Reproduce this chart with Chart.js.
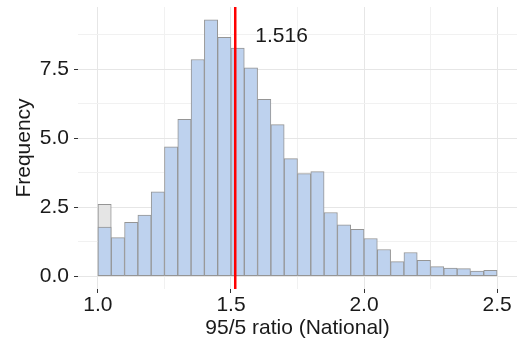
<!DOCTYPE html>
<html>
<head>
<meta charset="utf-8">
<script src="https://cdn.jsdelivr.net/npm/chart.js@4"></script>
<style>
    html, body { margin: 0; padding: 0; background: #ffffff; }
    #wrap { width: 517px; height: 347px; }
</style>
</head>
<body>
<div id="wrap"><canvas id="histChart"></canvas></div>
<script>
/* =========================
   Data
========================= */
const binMids = [1.025, 1.075, 1.125, 1.175, 1.225, 1.275, 1.325, 1.375, 1.425, 1.475,
                 1.525, 1.575, 1.625, 1.675, 1.725, 1.775, 1.825, 1.875, 1.925, 1.975,
                 2.025, 2.075, 2.125, 2.175, 2.225, 2.275, 2.325, 2.375, 2.425, 2.475];
const blueCounts = [1.78, 1.40, 1.95, 2.22, 3.06, 4.69, 5.68, 7.85, 9.29, 8.65,
                    8.26, 7.55, 6.41, 5.49, 4.26, 3.72, 3.79, 2.31, 1.86, 1.70,
                    1.37, 0.97, 0.53, 0.86, 0.58, 0.35, 0.30, 0.28, 0.19, 0.22];
const grayMids = [1.025];
const grayCounts = [2.61];
const medianValue = 1.516;
const medianLabel = "1.516";

const xTicks = [1.0, 1.25, 1.5, 1.75, 2.0, 2.25, 2.5];
const xLabels = [1.0, 1.5, 2.0, 2.5];
const yTicks = [0, 1.25, 2.5, 3.75, 5.0, 6.25, 7.5, 8.75];
const yLabels = [0, 2.5, 5.0, 7.5];

const FONT = "'Liberation Sans', Arial, sans-serif";
const TEXT = "#1a1a1a";

const isMajor = (list, v) => list.some(t => Math.abs(t - v) < 1e-6);
const tickVal = (c) => (c && c.tick) ? c.tick.value : NaN;
const noPad = (s) => { s.paddingTop = 0; s.paddingBottom = 0; s.paddingLeft = 0; s.paddingRight = 0; };

/* =========================
   Median line plugin
========================= */
const medianLine = {
    id: "medianLine",
    afterDatasetsDraw(chart) {
        const { ctx, chartArea, scales } = chart;
        const x = scales.x.getPixelForValue(medianValue);
        ctx.save();
        ctx.strokeStyle = "#ff0000";
        ctx.lineWidth = 2.5;
        ctx.beginPath();
        ctx.moveTo(x, chartArea.top);
        ctx.lineTo(x, chartArea.bottom);
        ctx.stroke();

        ctx.fillStyle = TEXT;
        ctx.font = "21px " + FONT;
        ctx.textAlign = "center";
        ctx.textBaseline = "middle";
        ctx.fillText(medianLabel, scales.x.getPixelForValue(1.69), scales.y.getPixelForValue(8.68));
        ctx.restore();
    }
};

/* =========================
   Chart
========================= */
new Chart(document.getElementById("histChart"), {
    type: "bar",
    data: {
        datasets: [
            {
                label: "All",
                data: blueCounts.map((v, i) => ({ x: binMids[i], y: v })),
                backgroundColor: "#bed2ee",
                borderColor: "#959595",
                borderWidth: 1,
                borderSkipped: false,
                grouped: false,
                barPercentage: 1,
                categoryPercentage: 1,
                order: 0
            },
            {
                label: "Other",
                data: grayCounts.map((v, i) => ({ x: grayMids[i], y: v })),
                backgroundColor: "#e5e5e5",
                borderColor: "#959595",
                borderWidth: 1,
                borderSkipped: false,
                grouped: false,
                barPercentage: 1,
                categoryPercentage: 1,
                order: 1
            }
        ]
    },
    options: {
        responsive: true,
        maintainAspectRatio: false,
        animation: false,
        layout: { padding: { top: 7, right: 0, left: 0, bottom: 0 } },
        plugins: {
            legend: { display: false },
            tooltip: { enabled: false }
        },
        scales: {
            x: {
                type: "linear",
                offset: false,
                min: 0.925,
                max: 2.575,
                border: { display: false },
                afterBuildTicks: (s) => { s.ticks = xTicks.map(v => ({ value: v })); },
                afterFit: (s) => { s.height = 58; noPad(s); },
                grid: {
                    offset: false,
                    color: (c) => isMajor(xLabels, tickVal(c)) ? "#e6e6e6" : "#f1f1f1",
                    tickColor: (c) => isMajor(xLabels, tickVal(c)) ? "#333333" : "rgba(0,0,0,0)",
                    tickLength: 4,
                    lineWidth: 1
                },
                ticks: {
                    autoSkip: false,
                    maxRotation: 0,
                    padding: 0,
                    color: TEXT,
                    font: { family: FONT, size: 21 },
                    callback: (v) => isMajor(xLabels, v) ? Number(v).toFixed(1) : ""
                },
                title: {
                    display: true,
                    text: "95/5 ratio (National)",
                    color: TEXT,
                    font: { family: FONT, size: 21 },
                    padding: { top: 0, bottom: 6 }
                }
            },
            y: {
                min: -0.46,
                max: 9.75,
                border: { display: false },
                afterBuildTicks: (s) => { s.ticks = yTicks.map(v => ({ value: v })); },
                afterFit: (s) => { s.width = 78; noPad(s); },
                grid: {
                    color: (c) => isMajor(yLabels, tickVal(c)) ? "#e6e6e6" : "#f1f1f1",
                    tickColor: (c) => isMajor(yLabels, tickVal(c)) ? "#333333" : "rgba(0,0,0,0)",
                    tickLength: 4,
                    lineWidth: 1
                },
                ticks: {
                    autoSkip: false,
                    padding: 5,
                    color: TEXT,
                    font: { family: FONT, size: 21 },
                    callback: (v) => isMajor(yLabels, v) ? Number(v).toFixed(1) : ""
                },
                title: {
                    display: true,
                    text: "Frequency",
                    color: TEXT,
                    font: { family: FONT, size: 21 },
                    padding: { top: 12, bottom: 0 }
                }
            }
        }
    },
    plugins: [medianLine]
});
</script>
</body>
</html>
